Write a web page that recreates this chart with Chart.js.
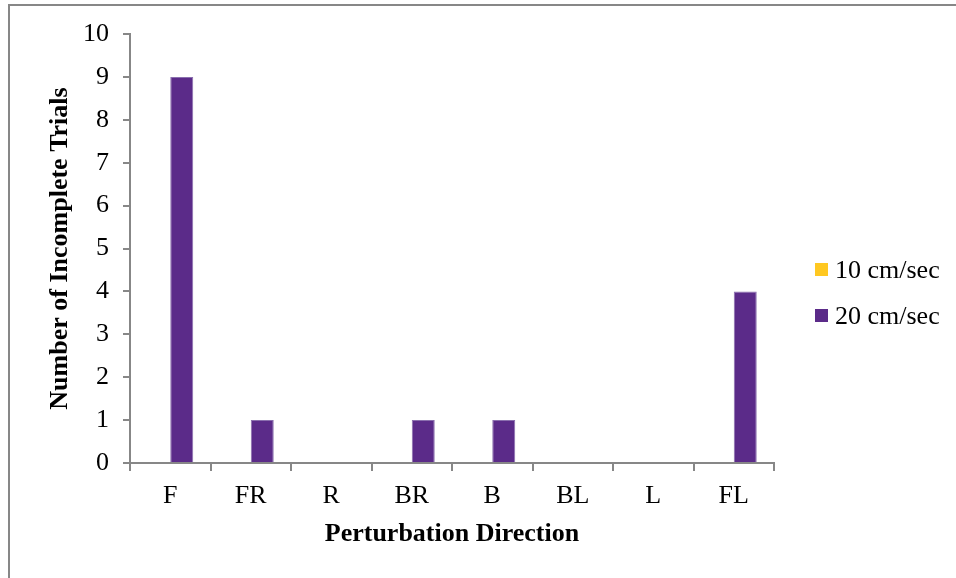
<!DOCTYPE html>
<html>
<head>
<meta charset="utf-8">
<script src="https://cdn.jsdelivr.net/npm/chart.js@4"></script>
<style>
  html, body { margin: 0; padding: 0; background: #fff; }
  #wrap { position: relative; width: 956px; height: 578px; overflow: hidden; }
  #frame { position: absolute; left: 8px; top: 4px; width: 1000px; height: 1000px;
           border-left: 2px solid #878787; border-top: 2px solid #878787; }
  canvas { position: absolute; left: 0; top: 0; }
</style>
</head>
<body>
<div id="wrap">
  <div id="frame"></div>
  <canvas id="c" width="956" height="578"></canvas>
</div>
<script>
const categories = ['F', 'FR', 'R', 'BR', 'B', 'BL', 'L', 'FL'];
const speed10 = [0, 0, 0, 0, 0, 0, 0, 0];
const speed20 = [9, 1, 0, 1, 1, 0, 0, 4];
const seriesLabels = ['10 cm/sec', '20 cm/sec'];
const yTicks = [0, 1, 2, 3, 4, 5, 6, 7, 8, 9, 10];

const FONT = '"Liberation Serif", "Times New Roman", serif';
const AXIS = '#878787';

const customLegend = {
  id: 'customLegend',
  afterDraw(chart) {
    const ctx = chart.ctx;
    const x0 = chart.chartArea.right + 41;
    const yc = 293;
    const gap = 46;
    ctx.save();
    ctx.font = '26px ' + FONT;
    ctx.textBaseline = 'middle';
    ctx.textAlign = 'left';
    chart.data.datasets.forEach((ds, i) => {
      const y = yc + (i - 0.5) * gap;
      ctx.fillStyle = ds.backgroundColor;
      ctx.fillRect(x0, y - 7, 13, 13);
      ctx.fillStyle = '#000';
      ctx.fillText(ds.label, x0 + 20, y + 1);
    });
    ctx.restore();
  }
};

new Chart(document.getElementById('c'), {
  type: 'bar',
  data: {
    labels: categories,
    datasets: [
      { label: seriesLabels[0], data: speed10, backgroundColor: '#FFC821', borderWidth: 0 },
      { label: seriesLabels[1], data: speed20, backgroundColor: '#5B2B89', borderColor: '#8A6FAE', borderWidth: 1 }
    ]
  },
  options: {
    responsive: false,
    animation: false,
    devicePixelRatio: 1,
    categoryPercentage: 0.5714,
    barPercentage: 1,
    layout: { padding: { top: 34, left: 0, right: 182, bottom: 0 } },
    plugins: { legend: { display: false }, tooltip: { enabled: false } },
    scales: {
      x: {
        offset: true,
        afterFit(scale) { scale.height = 115; },
        grid: { offset: true, drawOnChartArea: false, drawTicks: true, tickLength: 8, color: AXIS, lineWidth: 2 },
        border: { color: AXIS, width: 2 },
        ticks: { color: '#000', font: { family: FONT, size: 26 }, padding: 10 },
        title: { display: true, text: 'Perturbation Direction', color: '#000',
                 font: { family: FONT, size: 26, weight: 'bold' }, padding: { top: 0, bottom: 28 } }
      },
      y: {
        min: 0, max: 10,
        afterFit(scale) { scale.width = 130; },
        afterBuildTicks(scale) { scale.ticks = yTicks.map(v => ({ value: v })); },
        grid: { drawOnChartArea: false, drawTicks: true, tickLength: 7, color: AXIS, lineWidth: 2 },
        border: { color: AXIS, width: 2 },
        ticks: { color: '#000', font: { family: FONT, size: 26 }, padding: 14 },
        title: { display: true, text: 'Number of Incomplete Trials', color: '#000',
                 font: { family: FONT, size: 26, weight: 'bold' }, padding: { top: 45, bottom: 0 } }
      }
    }
  },
  plugins: [customLegend]
});
</script>
</body>
</html>
